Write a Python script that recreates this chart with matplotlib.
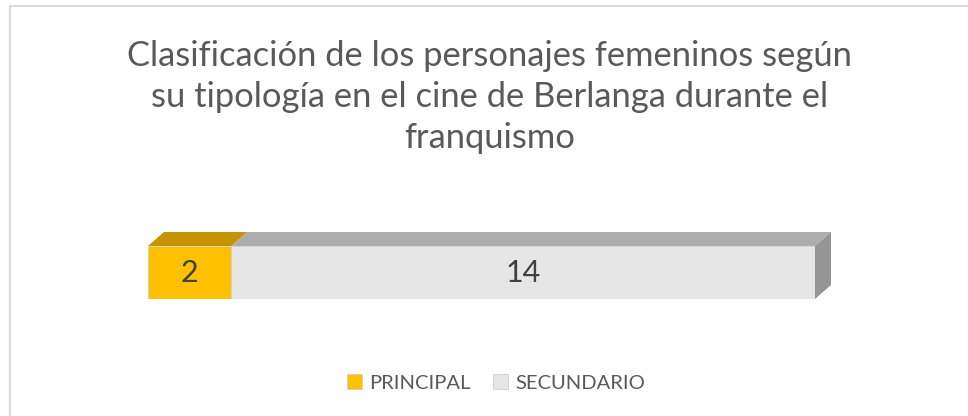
import matplotlib.pyplot as plt
from matplotlib.patches import Polygon, Rectangle

# Datos del grafico
categorias = ['PRINCIPAL', 'SECUNDARIO']
valores = [2, 14]
colores_frente = ['#FFC000', '#E6E6E6']
colores_arriba = ['#C49500', '#ADADAD']
color_lado = '#959595'

titulo = ('Clasificación de los personajes femeninos según\n'
          'su tipología en el cine de Berlanga durante el\n'
          'franquismo')

W, H = 968, 416
fig = plt.figure(figsize=(W / 100, H / 100), dpi=100)
fig.patch.set_facecolor('white')

# Borde del area del grafico (solo se ven el lado izquierdo y el superior)
fig.patches.append(Rectangle((10 / W, -1), 2, 2 - 6 / H, transform=fig.transFigure,
                             fill=False, edgecolor='#D9D9D9', linewidth=1.5))

fig.text(0.506, 1 - 97 / H, titulo, ha='center', va='center', fontsize=24.8,
         color='#595959', family='Lato', linespacing=1.33)

# Ejes: el frente de la barra ocupa de x=148 a x=815, y=246 a y=299
ax = fig.add_axes([148 / W, (H - 299) / H, (815 - 148) / W, 53 / H])
total = sum(valores)
ax.set_xlim(0, total)
ax.set_ylim(-0.5, 0.5)
ax.axis('off')

dx = 16 / (815 - 148) * total
dy = 14 / 53

izq = 0
for cat, v, cf, ca in zip(categorias, valores, colores_frente, colores_arriba):
    ax.barh(0, v, left=izq, height=1, color=cf, edgecolor='#D0D0D0', linewidth=0.6,
            label=cat)
    ax.add_patch(Polygon([(izq, 0.5), (izq + v, 0.5), (izq + v + dx, 0.5 + dy),
                          (izq + dx, 0.5 + dy)], closed=True, facecolor=ca,
                         edgecolor='none', clip_on=False))
    ax.text(izq + v / 2, 0, str(v), ha='center', va='center', fontsize=22,
            color='#404040', family='Lato')
    izq += v

ax.add_patch(Polygon([(total, -0.5), (total, 0.5), (total + dx, 0.5 + dy),
                      (total + dx, -0.5 + dy)], closed=True, facecolor=color_lado,
                     edgecolor='none', clip_on=False))

leg = fig.legend(loc='center', bbox_to_anchor=(496 / W, 1 - 383 / H), ncol=2,
                 frameon=False, handlelength=0.75, handleheight=0.75,
                 handletextpad=0.35, columnspacing=1.15,
                 prop={'family': 'Lato', 'size': 14.5})
for t in leg.get_texts():
    t.set_color('#595959')

plt.savefig('out.png', dpi=100)
